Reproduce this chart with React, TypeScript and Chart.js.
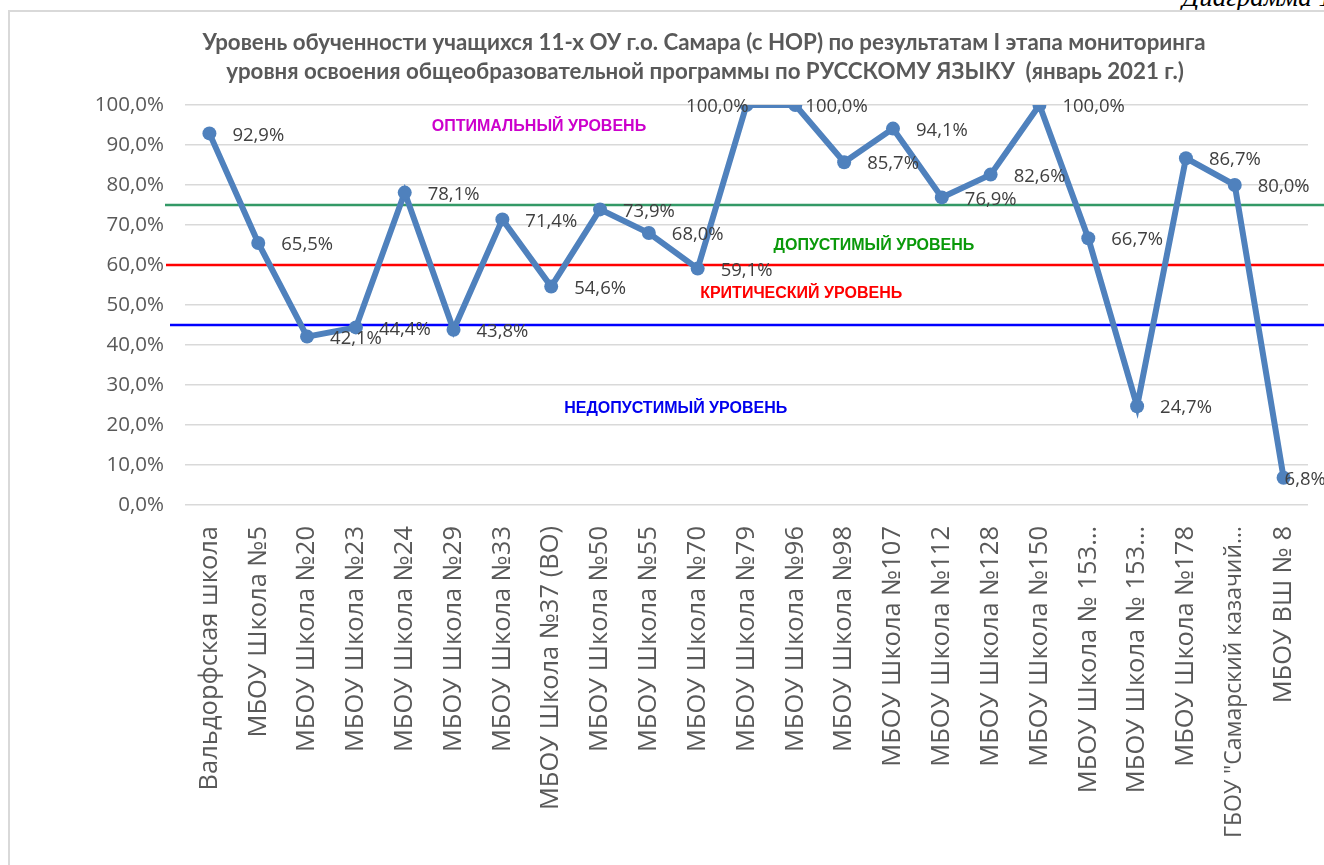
import React, { useEffect, useRef } from 'react';
import { Chart, registerables } from 'chart.js';

Chart.register(...registerables);

// ---------- data ----------
const categories = [
  'Вальдорфская школа',
  'МБОУ Школа №5',
  'МБОУ Школа №20',
  'МБОУ Школа №23',
  'МБОУ Школа №24',
  'МБОУ Школа №29',
  'МБОУ Школа №33',
  'МБОУ Школа №37 (ВО)',
  'МБОУ Школа №50',
  'МБОУ Школа №55',
  'МБОУ Школа №70',
  'МБОУ Школа №79',
  'МБОУ Школа №96',
  'МБОУ Школа №98',
  'МБОУ Школа №107',
  'МБОУ Школа №112',
  'МБОУ Школа №128',
  'МБОУ Школа №150',
  'МБОУ Школа № 153…',
  'МБОУ Школа № 153…',
  'МБОУ Школа №178',
  'ГБОУ "Самарский казачий…',
  'МБОУ ВШ № 8',
];

const values = [
  92.9, 65.5, 42.1, 44.4, 78.1, 43.8, 71.4, 54.6, 73.9, 68.0, 59.1, 100.0,
  100.0, 85.7, 94.1, 76.9, 82.6, 100.0, 66.7, 24.7, 86.7, 80.0, 6.8,
];

const yTickMin = 0;
const yTickMax = 100;
const yTickStep = 10;

const titleLines = [
  'Уровень обученности учащихся 11-х ОУ г.о. Самара (с НОР) по результатам I этапа мониторинга',
  'уровня освоения общеобразовательной программы по РУССКОМУ ЯЗЫКУ  (январь 2021 г.)',
];

const levelValues = [75, 60, 45];
const levelNames = [
  'ОПТИМАЛЬНЫЙ УРОВЕНЬ',
  'ДОПУСТИМЫЙ УРОВЕНЬ',
  'КРИТИЧЕСКИЙ УРОВЕНЬ',
  'НЕДОПУСТИМЫЙ УРОВЕНЬ',
];

// ---------- styles ----------
const levelLineColors = ['#339966', '#FF0000', '#0000FF'];
const levelLineOverhang = [20, 19, 15];
const levelTextColors = ['#CC00CC', '#0A990A', '#FF0000', '#0000EE'];
// annotation anchor in data space: [category index, value]
const levelTextAnchors: [number, number][] = [
  [6.75, 94.5],
  [13.61, 64.75],
  [12.12, 52.75],
  [9.55, 24],
];

const labelShift: Record<number, { dx: number; align: CanvasTextAlign }> = {
  11: { dx: 2, align: 'right' },
  12: { dx: 10, align: 'left' },
  22: { dx: 1, align: 'left' },
};

const FONT = '"Open Sans", Lato, sans-serif';
const xLabelSize = 25.5;
const xLabelSizeLong = 23; // the long "ГБОУ ..." label is rendered slightly tighter

const fmt = (v: number) => v.toFixed(1).replace('.', ',') + '%';

const titlePlugin = {
  id: 'customTitle',
  afterDraw(chart: any) {
    const { ctx } = chart;
    ctx.save();
    ctx.font = 'bold 22.3px Lato, "Open Sans", sans-serif';
    ctx.fillStyle = '#595959';
    ctx.textAlign = 'center';
    ctx.textBaseline = 'middle';
    ctx.fillText(titleLines[0], 694, 31);
    ctx.fillText(titleLines[1], 695, 60);
    ctx.restore();
  },
};

const levelsPlugin = {
  id: 'levels',
  beforeDatasetsDraw(chart: any) {
    const { ctx, chartArea, width } = chart;
    const y = chart.scales.y;
    levelValues.forEach((v, i) => {
      const py = y.getPixelForValue(v);
      ctx.save();
      ctx.strokeStyle = levelLineColors[i];
      ctx.lineWidth = 2.5;
      ctx.beginPath();
      ctx.moveTo(chartArea.left - levelLineOverhang[i], py);
      ctx.lineTo(width, py);
      ctx.stroke();
      ctx.restore();
    });
  },
  afterDraw(chart: any) {
    const { ctx } = chart;
    const x = chart.scales.x;
    const y = chart.scales.y;
    ctx.save();
    ctx.font = 'bold 16px "Liberation Sans", Arial, sans-serif';
    ctx.textAlign = 'center';
    ctx.textBaseline = 'middle';
    levelNames.forEach((name, i) => {
      const [ix, iv] = levelTextAnchors[i];
      ctx.fillStyle = levelTextColors[i];
      ctx.fillText(name, x.getPixelForValue(ix), y.getPixelForValue(iv));
    });
    ctx.restore();
  },
};

const dataLabelsPlugin = {
  id: 'dataLabels',
  afterDatasetsDraw(chart: any) {
    const { ctx } = chart;
    const meta = chart.getDatasetMeta(0);
    ctx.save();
    ctx.font = '18.5px ' + FONT;
    ctx.fillStyle = '#404040';
    ctx.textBaseline = 'middle';
    meta.data.forEach((pt: any, i: number) => {
      const s = labelShift[i] || { dx: 23, align: 'left' as CanvasTextAlign };
      ctx.textAlign = s.align;
      ctx.fillText(fmt(values[i]), pt.x + s.dx, pt.y + 2);
    });
    ctx.restore();
  },
};

export default function App() {
  const canvasRef = useRef<HTMLCanvasElement | null>(null);

  useEffect(() => {
    if (!canvasRef.current) return;
    const chart = new Chart(canvasRef.current, {
      type: 'line',
      data: {
        labels: categories,
        datasets: [
          {
            data: values,
            borderColor: '#4F81BD',
            backgroundColor: '#4F81BD',
            borderWidth: 6,
            pointRadius: 7,
            pointBorderWidth: 0,
            pointBackgroundColor: '#4F81BD',
            tension: 0,
          },
        ],
      },
      options: {
        responsive: false,
        animation: false,
        devicePixelRatio: 1,
        layout: { padding: { top: 93, right: 16, left: 0, bottom: 0 } },
        plugins: {
          legend: { display: false },
          title: { display: false },
          tooltip: { enabled: false },
        },
        scales: {
          x: {
            type: 'category',
            offset: true,
            grid: { display: false, drawTicks: false },
            border: { display: false },
            ticks: {
              autoSkip: false,
              minRotation: 90,
              maxRotation: 90,
              padding: 21,
              color: '#595959',
              font: (c: any) => ({
                family: FONT,
                size: c.index === 21 ? xLabelSizeLong : xLabelSize,
              }),
            },
            afterFit(scale: any) {
              scale.height = 360;
              scale.paddingLeft = 0;
              scale.paddingRight = 0;
            },
          },
          y: {
            min: yTickMin,
            max: yTickMax,
            grid: { color: '#d9d9d9', lineWidth: 1.5, drawTicks: false },
            border: { display: false },
            ticks: {
              stepSize: yTickStep,
              padding: 21,
              color: '#595959',
              font: { family: FONT, size: 20.5 },
              callback: (v: any) => fmt(Number(v)),
            },
            afterFit(scale: any) {
              scale.width = 175;
              scale.paddingTop = 0;
              scale.paddingBottom = 0;
            },
          },
        },
      },
      plugins: [levelsPlugin, dataLabelsPlugin, titlePlugin],
    });
    return () => chart.destroy();
  }, []);

  return (
    <div
      style={{
        position: 'fixed',
        left: 0,
        top: 0,
        width: 1324,
        height: 865,
        overflow: 'hidden',
        background: '#ffffff',
      }}
    >
      <div
        style={{
          position: 'absolute',
          left: 1182,
          top: -16,
          font: 'italic 27px "Liberation Serif", serif',
          lineHeight: '27px',
          whiteSpace: 'nowrap',
          color: '#000',
        }}
      >
        Диаграмма 1
      </div>
      <div
        style={{
          position: 'absolute',
          left: 8,
          top: 10,
          width: 1330,
          height: 870,
          borderLeft: '2px solid #d9d9d9',
          borderTop: '2px solid #d9d9d9',
        }}
      />
      <canvas
        ref={canvasRef}
        width={1314}
        height={853}
        style={{ position: 'absolute', left: 10, top: 12, width: 1314, height: 853 }}
      />
    </div>
  );
}
